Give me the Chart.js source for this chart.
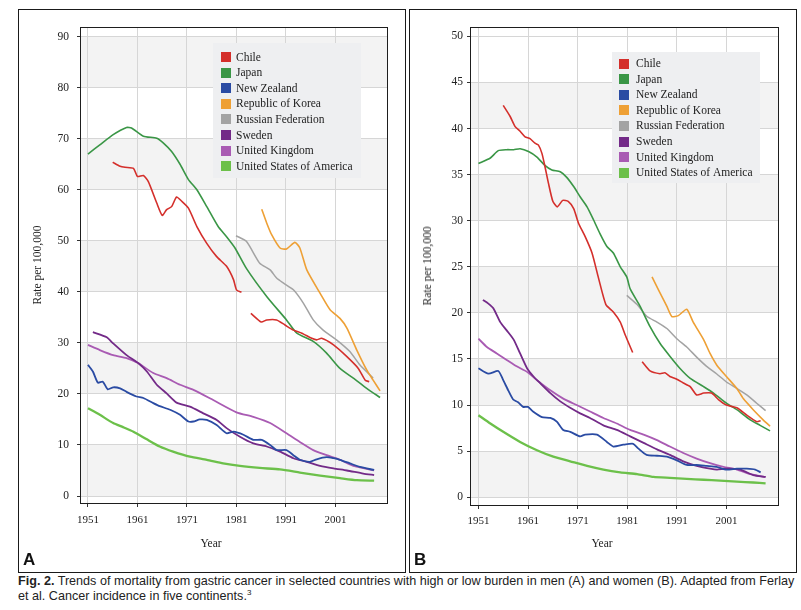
<!DOCTYPE html>
<html>
<head>
<meta charset="utf-8">
<script src="https://cdn.jsdelivr.net/npm/chart.js@4.4.1/dist/chart.umd.min.js"></script>
<style>
  html, body { margin: 0; padding: 0; background: #fff; }
  body { width: 801px; height: 610px; position: relative; overflow: hidden; }
  .panel { position: absolute; box-sizing: border-box; border: 1px solid #1a1a1a; }
  canvas { position: absolute; }
  .ytitle { position: absolute; font-family: "Liberation Serif", serif; font-size: 11.5px; color: #222;
            transform: translate(-50%, -50%) rotate(-90deg); white-space: nowrap; }
  .xtitle { position: absolute; font-family: "Liberation Serif", serif; font-size: 11.5px; color: #222;
            transform: translate(-50%, -50%); white-space: nowrap; }
  .plab { position: absolute; font-family: "Liberation Sans", Arial, sans-serif; font-weight: bold; font-size: 17px; color: #111; }
  .caption { position: absolute; left: 18px; top: 574px; width: 790px; font-family: "Liberation Sans", Arial, sans-serif;
             font-size: 12.6px; line-height: 15px; color: #222; white-space: nowrap; }
  .caption sup { font-size: 8px; vertical-align: 5px; line-height: 0; }
</style>
</head>
<body>
<div class="panel" style="left:18px;top:9px;width:388px;height:564px"></div>
<div class="panel" style="left:409px;top:9px;width:388px;height:564px"></div>
<canvas id="cA" width="385" height="561" style="left:19px;top:10px"></canvas>
<canvas id="cB" width="385" height="561" style="left:410px;top:10px"></canvas>
<div class="ytitle" style="left:37px;top:265px">Rate per 100,000</div>
<div class="ytitle" style="left:427px;top:266px">Rate per 100,000</div>
<div class="xtitle" style="left:211px;top:543px">Year</div>
<div class="xtitle" style="left:602px;top:543px">Year</div>
<div class="plab" style="left:23px;top:550px">A</div>
<div class="plab" style="left:414px;top:550px">B</div>
<div class="caption"><b>Fig. 2.</b> Trends of mortality from gastric cancer in selected countries with high or low burden in men (A) and women (B). Adapted from Ferlay<br>et al. Cancer incidence in five continents.<sup>3</sup></div>

<script>
// ---------- labels & ticks ----------
const countries = ["Chile", "Japan", "New Zealand", "Republic of Korea", "Russian Federation", "Sweden", "United Kingdom", "United States of America"];
const xTicks = [1951, 1961, 1971, 1981, 1991, 2001];
const yTicksA = [0, 10, 20, 30, 40, 50, 60, 70, 80, 90];
const yTicksB = [0, 5, 10, 15, 20, 25, 30, 35, 40, 45, 50];

// ---------- Panel A (men) ----------
const chileA_x = [1956, 1957.5, 1958.5, 1960.2, 1961, 1962.2, 1963.2, 1964.9, 1966, 1966.9, 1967.9, 1968.9, 1969.9, 1971.3, 1973, 1975, 1977, 1979, 1980.4, 1981, 1982, 1983, 1983.9, 1986, 1987.1, 1989.1, 1990.8, 1992.5, 1994.2, 1996.2, 1997.2, 1998.2, 2000.6, 2003.3, 2005.6, 2007, 2007.8];
const chileA_y = [65.4, 64.6, 64.4, 64.2, 62.6, 62.8, 61.6, 57.4, 55.0, 56.1, 56.7, 58.6, 57.8, 56.4, 52.8, 49.5, 46.9, 45.0, 42.4, 40.4, 39.9, null, 35.8, 34.1, 34.5, 34.5, 33.5, 32.5, 31.9, 30.9, 30.6, 30.9, 29.6, 27.3, 25.0, 22.7, 22.4];
const japanA_x = [1951, 1953.4, 1956.1, 1958.8, 1959.8, 1962.2, 1964.9, 1966.2, 1967.9, 1969.6, 1971.3, 1973, 1975, 1977.3, 1979, 1980.7, 1983, 1987.1, 1991.1, 1993.2, 1996.5, 1999.2, 2001.9, 2004.6, 2007.3, 2010];
const japanA_y = [67.0, 68.8, 70.8, 72.2, 72.1, 70.5, 70.1, 69.2, 67.5, 65.0, 62.0, 60.0, 56.7, 52.8, 50.8, 48.6, 44.6, 39.1, 34.5, 31.9, 30.3, 28.0, 25.0, 23.1, 21.1, 19.3];
const nzA_x = [1951, 1952, 1953, 1954, 1955, 1956.1, 1957.5, 1958.8, 1960.8, 1962.2, 1964.2, 1965.5, 1967.6, 1969.6, 1971.3, 1972.3, 1973.6, 1975, 1977, 1979, 1980.4, 1982.4, 1984.4, 1986.1, 1987.8, 1989.1, 1991.1, 1992.5, 1993.8, 1995.8, 1997.2, 1999.2, 2000.6, 2001.9, 2003.9, 2005.9, 2008.8];
const nzA_y = [25.7, 24.4, 22.2, 22.4, 20.9, 21.3, 21.1, 20.4, 19.5, 19.2, 18.2, 17.6, 16.9, 15.9, 14.6, 14.6, 15.0, 14.9, 13.9, 12.3, 12.6, 12.0, 11.0, 11.0, 10.0, 9.0, 9.0, 8.0, 7.1, 6.7, 7.2, 7.6, 7.4, 7.1, 6.4, 5.7, 5.1];
const koreaA_x = [1986.1, 1987.1, 1988.1, 1989.8, 1991.1, 1992.8, 1993.8, 1995.2, 1997.9, 1999.9, 2001.9, 2003.3, 2005.3, 2007.3, 2008.6, 2010];
const koreaA_y = [56.2, 53.5, 51.2, 48.6, 48.4, 49.7, 48.6, 44.3, 39.7, 36.5, 34.8, 32.9, 28.6, 24.7, 22.7, 20.6];
const russiaA_x = [1980.9, 1983, 1985.7, 1987.8, 1989.1, 1990.5, 1992.5, 1994.5, 1996.5, 1998.5, 2001.2, 2003.9, 2005.9, 2008.6];
const russiaA_y = [51.0, 49.9, 45.6, 44.3, 42.7, 41.7, 40.4, 37.8, 34.5, 32.5, 30.6, 28.3, 25.7, 23.1];
const swedenA_x = [1952, 1954.8, 1956.1, 1958.8, 1961.2, 1962.9, 1964.9, 1966.9, 1968.9, 1971.6, 1974.3, 1977, 1979, 1981.7, 1984.4, 1987.1, 1989.8, 1992.5, 1995.2, 1997.9, 2000.6, 2003.3, 2006.6, 2008.8];
const swedenA_y = [32.1, 31.1, 29.9, 27.6, 26.0, 24.4, 21.8, 20.1, 18.3, 17.5, 16.2, 14.9, 13.3, 11.6, 10.3, 9.7, 8.7, 7.4, 6.7, 5.9, 5.4, 5.0, 4.4, 4.1];
const ukA_x = [1951, 1953.4, 1956.1, 1958.8, 1961.2, 1964.2, 1966.9, 1969.6, 1972.3, 1976.3, 1981, 1984.4, 1987.8, 1991.1, 1993.8, 1996.5, 1999.2, 2001.9, 2004.6, 2008.8];
const ukA_y = [29.6, 28.6, 27.6, 27.0, 26.0, 24.1, 23.1, 21.8, 20.8, 18.8, 16.4, 15.5, 14.3, 12.3, 10.6, 9.0, 8.0, 7.1, 5.9, 5.0];
const usaA_x = [1951, 1953.4, 1956.1, 1958.1, 1960.2, 1962.9, 1965.5, 1968.2, 1971.6, 1975, 1978.3, 1981.7, 1985.7, 1989.8, 1993.8, 1997.9, 2001.9, 2005.3, 2008.8];
const usaA_y = [17.2, 15.9, 14.3, 13.5, 12.6, 11.1, 9.7, 8.7, 7.7, 7.1, 6.4, 5.9, 5.5, 5.2, 4.6, 4.0, 3.5, 3.1, 3.0];

// ---------- Panel B (women) ----------
const chileB_x = [1956, 1957.4, 1958.4, 1959.4, 1960.4, 1961.4, 1962.4, 1963.1, 1963.8, 1964.4, 1965.1, 1966, 1966.9, 1968, 1969.1, 1970.2, 1971.2, 1972.5, 1973.9, 1975.2, 1976.7, 1978.2, 1979.6, 1980.6, 1982.1, 1983, 1984, 1985.6, 1987.6, 1988.6, 1989.6, 1991, 1992.3, 1993.7, 1995, 1996.4, 1998, 1999.4, 2001, 2003.1, 2005.1, 2007.1, 2007.9];
const chileB_y = [42.5, 41.3, 40.2, 39.7, 39.1, 38.9, 38.4, 38.2, 37.3, 35.9, 34.1, 32.1, 31.5, 32.2, 32.1, 31.3, 29.7, 28.3, 26.5, 23.8, 20.9, 20.1, 19.0, 17.6, 15.7, null, 14.7, 13.7, 13.4, 13.5, 13.1, 12.8, 12.4, 12.0, 11.1, 11.3, 11.3, 10.6, 10.0, 9.7, 8.9, 8.2, 8.3];
const japanB_x = [1951, 1953.4, 1955, 1956.7, 1958.1, 1959.4, 1961.1, 1962.8, 1964.4, 1965.8, 1967.5, 1968.8, 1970.2, 1971.5, 1972.9, 1974.2, 1975.5, 1976.9, 1978.2, 1979.6, 1980.9, 1981.6, 1983.6, 1985.6, 1987.6, 1989.6, 1991.6, 1993.7, 1996.4, 1998.4, 2001, 2003.1, 2005.8, 2007.8, 2009.8];
const japanB_y = [36.2, 36.8, 37.6, 37.7, 37.7, 37.8, 37.5, 36.9, 36.0, 35.5, 35.3, 34.7, 33.7, 32.6, 31.5, 30.1, 28.6, 27.2, 26.5, 25.0, 23.9, 22.6, 20.7, 18.5, 16.7, 15.3, 14.0, 12.9, 12.0, 11.3, 10.2, 9.5, 8.4, 7.8, 7.2];
const nzB_x = [1951, 1953, 1955, 1956, 1957, 1958, 1959, 1960, 1961, 1962, 1963.8, 1965.5, 1966.8, 1968.1, 1969.5, 1971.5, 1972.5, 1974.9, 1976.9, 1978.2, 1980.2, 1982.2, 1983.2, 1984.9, 1987, 1989, 1991, 1993, 1995, 1997, 1999, 2001, 2003.1, 2005.1, 2006.8, 2007.9];
const nzB_y = [14.0, 13.4, 13.7, 12.7, 11.6, 10.6, 10.3, 9.8, 9.8, 9.3, 8.7, 8.6, 8.2, 7.3, 7.1, 6.6, 6.8, 6.8, 6.0, 5.5, 5.7, 5.8, 5.3, 4.6, 4.5, 4.4, 4.0, 3.5, 3.5, 3.4, 3.3, 3.0, 3.1, 3.1, 3.0, 2.7];
const koreaB_x = [1986, 1987.3, 1989, 1990, 1991.3, 1993, 1994.3, 1996.4, 1997.7, 1999.1, 2001, 2003.1, 2004.4, 2006.4, 2008.4, 2009.8];
const koreaB_y = [23.9, 22.5, 20.7, 19.6, 19.7, 20.4, 19.0, 17.1, 15.6, 14.3, 13.1, 11.8, 10.7, 9.5, 8.4, 7.7];
const russiaB_x = [1980.9, 1983, 1985, 1987, 1989, 1991, 1993, 1995, 1997, 1999, 2001, 2003.1, 2005.1, 2007.1, 2008.9];
const russiaB_y = [21.9, 20.9, 19.6, 19.0, 18.3, 17.2, 16.3, 15.2, 14.2, 13.4, 12.5, 11.8, 11.1, 10.2, 9.4];
const swedenB_x = [1951.9, 1953, 1954, 1955.4, 1956.7, 1958.1, 1959.4, 1960.8, 1962.1, 1963.4, 1965.5, 1967.5, 1969.5, 1971.5, 1973.5, 1976.2, 1978.9, 1981.6, 1984.3, 1987, 1989.6, 1992.3, 1995, 1997.7, 1999.1, 2001, 2003.8, 2006.4, 2008.9];
const swedenB_y = [21.4, 21.0, 20.5, 19.0, 18.1, 17.1, 15.6, 14.0, 13.1, 12.4, 11.3, 10.4, 9.7, 9.1, 8.6, 7.8, 7.3, 6.6, 5.9, 5.2, 4.6, 3.9, 3.4, 3.1, 3.0, 3.1, 3.0, 2.4, 2.2];
const ukB_x = [1951, 1952.7, 1954.7, 1956.7, 1958.7, 1960.8, 1962.8, 1965.5, 1968.1, 1970.8, 1973.5, 1976.2, 1978.9, 1981.6, 1984.3, 1987, 1989.6, 1992.3, 1995, 1997.7, 2000.4, 2003.1, 2005.8, 2008.9];
const ukB_y = [17.2, 16.3, 15.6, 14.9, 14.2, 13.6, 12.7, 11.6, 10.7, 10.0, 9.3, 8.6, 8.0, 7.3, 6.8, 6.2, 5.5, 4.8, 4.2, 3.7, 3.3, 3.0, 2.5, 2.2];
const usaB_x = [1951, 1953.4, 1956, 1959.4, 1962.8, 1966.1, 1969.5, 1972.9, 1976.2, 1979.6, 1983, 1986.3, 1989.6, 1993, 1996.4, 1999.7, 2003.1, 2006.4, 2008.9];
const usaB_y = [8.9, 8.0, 7.1, 6.0, 5.1, 4.4, 3.9, 3.4, 3.0, 2.7, 2.5, 2.2, 2.1, 2.0, 1.9, 1.8, 1.7, 1.6, 1.5];

// ---------- styles ----------
const colors = ["#d42f2b", "#3a9646", "#2a4ba3", "#eea035", "#a3a3a3", "#732a88", "#a95bb3", "#6cc04a"];
const widths = [1.6, 1.6, 1.8, 1.6, 1.5, 1.8, 1.8, 2.3];

function pts(xs, ys) { return xs.map((x, i) => ({ x: x, y: ys[i] })); }

function makeDatasets(series) {
  return series.map((s, i) => ({
    label: countries[i],
    data: pts(s[0], s[1]),
    borderColor: colors[i],
    backgroundColor: colors[i],
    borderWidth: widths[i],
    pointRadius: 0,
    tension: 0.2,
    spanGaps: false,
    fill: false
  }));
}

const bandsPlugin = {
  id: 'bands',
  beforeDraw(chart, args, opts) {
    const { ctx, chartArea: a } = chart;
    const y = chart.scales.y;
    ctx.save();
    ctx.fillStyle = '#ffffff';
    ctx.fillRect(a.left, a.top, a.right - a.left, a.bottom - a.top);
    ctx.fillStyle = opts.color;
    opts.ranges.forEach(r => {
      const t = y.getPixelForValue(r[1]);
      const b = y.getPixelForValue(r[0]);
      ctx.fillRect(a.left, t, a.right - a.left, b - t);
    });
    ctx.restore();
  }
};

const framePlugin = {
  id: 'frame',
  beforeDatasetsDraw(chart) {
    const { ctx, chartArea: a } = chart;
    ctx.save();
    ctx.strokeStyle = '#1e1e1e';
    ctx.lineWidth = 1;
    ctx.strokeRect(Math.round(a.left) - 0.5, Math.round(a.top) - 0.5, Math.round(a.right - a.left) + 1, Math.round(a.bottom - a.top) + 1);
    ctx.restore();
  }
};

const boxLegendPlugin = {
  id: 'boxLegend',
  afterDatasetsDraw(chart, args, o) {
    const ctx = chart.ctx;
    ctx.save();
    ctx.fillStyle = o.bg;
    ctx.fillRect(o.x, o.y, o.w, o.h);
    ctx.font = o.font;
    ctx.textBaseline = 'middle';
    ctx.textAlign = 'left';
    chart.data.datasets.forEach((ds, i) => {
      const cy = o.firstY + i * o.rowH;
      ctx.fillStyle = ds.borderColor;
      ctx.fillRect(o.boxX, Math.round(cy - o.box / 2), o.box, o.box);
      ctx.fillStyle = '#222';
      ctx.fillText(ds.label, o.textX, cy + 0.5);
    });
    ctx.restore();
  }
};

Chart.defaults.font.family = '"Liberation Serif", "Times New Roman", serif';
Chart.defaults.font.size = 11;
Chart.defaults.color = '#222';

function makeChart(id, series, cfg) {
  return new Chart(document.getElementById(id), {
    type: 'line',
    data: { datasets: makeDatasets(series) },
    plugins: [bandsPlugin, framePlugin, boxLegendPlugin],
    options: {
      responsive: false,
      animation: false,
      events: [],
      layout: { padding: { left: 0, right: cfg.padRight, top: cfg.padTop, bottom: 0 } },
      plugins: {
        legend: { display: false },
        tooltip: { enabled: false },
        bands: { color: '#f3f3f3', ranges: cfg.bands },
        boxLegend: cfg.legend
      },
      scales: {
        x: {
          type: 'linear',
          min: cfg.xMin, max: cfg.xMax,
          afterBuildTicks: s => { s.ticks = xTicks.map(v => ({ value: v })); },
          afterFit: s => { s.height = cfg.xAxisH; },
          ticks: { callback: v => String(v), padding: cfg.xPad, maxRotation: 0, autoSkip: false, font: { size: 11 } },
          grid: { color: '#d6d6d6', lineWidth: 1, tickLength: 4, tickColor: '#333' },
          border: { display: false }
        },
        y: {
          type: 'linear',
          min: cfg.yMin, max: cfg.yMax,
          afterBuildTicks: s => { s.ticks = cfg.yTicks.map(v => ({ value: v })); },
          afterFit: s => { s.width = cfg.yAxisW; },
          ticks: { callback: v => String(v), padding: cfg.yPad, autoSkip: false, font: { size: 11.5 } },
          grid: { color: '#d6d6d6', lineWidth: 1, tickLength: 4, tickColor: '#333' },
          border: { display: false }
        }
      }
    }
  });
}

makeChart('cA', [
  [chileA_x, chileA_y], [japanA_x, japanA_y], [nzA_x, nzA_y], [koreaA_x, koreaA_y],
  [russiaA_x, russiaA_y], [swedenA_x, swedenA_y], [ukA_x, ukA_y], [usaA_x, usaA_y]
], {
  padRight: 17, padTop: 18, xAxisH: 68, yAxisW: 62, xPad: 7, yPad: 8,
  xMin: 1949.6, xMax: 2011.4, yMin: -1.37, yMax: 91.7, yTicks: yTicksA,
  bands: [[0, 10], [20, 30], [40, 50], [60, 70], [80, 90]],
  legend: { bg: '#eeeff1', x: 194, y: 33, w: 148, h: 135, firstY: 47, rowH: 15.6, box: 10, boxX: 202, textX: 217,
            font: '11.5px "Liberation Serif", serif' }
});

makeChart('cB', [
  [chileB_x, chileB_y], [japanB_x, japanB_y], [nzB_x, nzB_y], [koreaB_x, koreaB_y],
  [russiaB_x, russiaB_y], [swedenB_x, swedenB_y], [ukB_x, ukB_y], [usaB_x, usaB_y]
], {
  padRight: 17, padTop: 18, xAxisH: 66, yAxisW: 61, xPad: 6, yPad: 4,
  xMin: 1949.5, xMax: 2011.4, yMin: -0.84, yMax: 50.9, yTicks: yTicksB,
  bands: [[0, 5], [10, 15], [20, 25], [30, 35], [40, 45]],
  legend: { bg: '#eeeff1', x: 202, y: 42, w: 148, h: 131, firstY: 53.5, rowH: 15.6, box: 10, boxX: 209, textX: 226,
            font: '11.5px "Liberation Serif", serif' }
});
</script>
</body>
</html>
